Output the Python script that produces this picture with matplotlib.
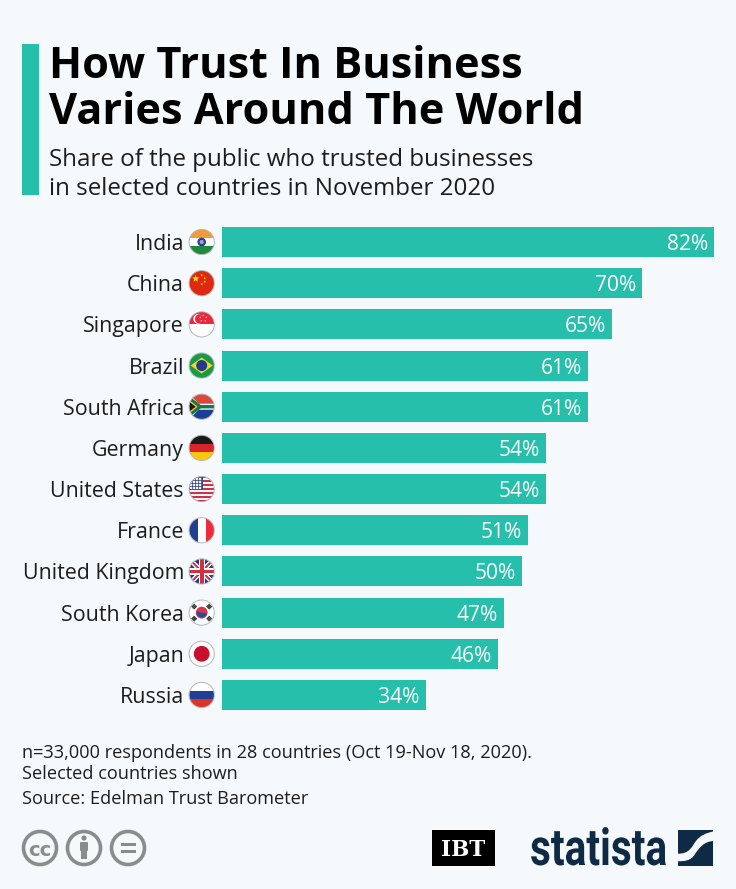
import matplotlib
matplotlib.use("Agg")
import numpy as np
import matplotlib.pyplot as plt
from matplotlib.patches import Circle, Rectangle, Polygon, FancyBboxPatch, PathPatch
from matplotlib.patheffects import AbstractPathEffect
from matplotlib.path import Path
from matplotlib.transforms import Affine2D

countries = ["India", "China", "Singapore", "Brazil", "South Africa", "Germany",
             "United States", "France", "United Kingdom", "South Korea", "Japan", "Russia"]
trust = [82, 70, 65, 61, 61, 54, 54, 51, 50, 47, 46, 34]

title_lines = ["How Trust In Business", "Varies Around The World"]
subtitle_lines = ["Share of the public who trusted businesses",
                  "in selected countries in November 2020"]
note_lines = ["n=33,000 respondents in 28 countries (Oct 19-Nov 18, 2020).",
              "Selected countries shown", "Source: Edelman Trust Barometer"]

BG = "#f5f9fc"
TEAL = "#26bfab"
NAVY = "#0f2a45"
W, H = 736, 889

plt.rcParams["font.family"] = ["Open Sans", "DejaVu Sans"]

fig = plt.figure(figsize=(W / 100, H / 100), dpi=100, facecolor=BG)

# overlay in pixel coordinates for header, flags and logos
bg = fig.add_axes([0, 0, 1, 1])
bg.set_xlim(0, W)
bg.set_ylim(H, 0)
bg.axis("off")

# bars
top, bottom = 221.4, 715.6
ax = fig.add_axes([222 / W, 1 - bottom / H, 492 / W, (bottom - top) / H])
ax.patch.set_alpha(0)
ypos = np.arange(len(countries))
ax.barh(ypos, trust, height=0.73, color=TEAL)
ax.set_xlim(0, 82)
ax.set_ylim(len(countries) - 0.5, -0.5)
ax.axis("off")
for y, v in zip(ypos, trust):
    ax.annotate(f"{v}%", (v, y), xytext=(-4.5, 0), textcoords="offset points",
                ha="right", va="center_baseline", color="white", fontsize=15.1)

# header
bg.add_patch(Rectangle((22, 44), 17, 151, color=TEAL, lw=0))
for line, y in zip(title_lines, [61, 108]):
    bg.text(49, y, line, fontsize=31.15, fontweight="bold", color="black", va="center_baseline")
for line, y in zip(subtitle_lines, [157, 186]):
    bg.text(49, y, line, fontsize=17.42, color="#1d1d1d", va="center_baseline")


def flag(cy, draw, cx=201.7, r=12.6):
    clip = Circle((cx, cy), r, transform=bg.transData)
    artists = draw(cx, cy, r)
    for a in artists:
        bg.add_artist(a)
        a.set_clip_path(clip)
    bg.add_patch(Circle((cx, cy), r, fill=False, ec="#b5b5b5", lw=0.7, zorder=6))


def rect(x0, y0, w, h, c):
    return Rectangle((x0, y0), w, h, color=c, lw=0, zorder=4)


def hstripes(colors):
    def draw(cx, cy, r):
        n = len(colors)
        return [rect(cx - r, cy - r + i * 2 * r / n, 2 * r, 2 * r / n, c) for i, c in enumerate(colors)]
    return draw


def vstripes(colors):
    def draw(cx, cy, r):
        n = len(colors)
        return [rect(cx - r + i * 2 * r / n, cy - r, 2 * r / n, 2 * r, c) for i, c in enumerate(colors)]
    return draw


def star(x, y, s, c):
    ang = np.deg2rad(np.arange(10) * 36 - 90)
    rad = np.where(np.arange(10) % 2 == 0, s, s * 0.42)
    return Polygon(np.c_[x + rad * np.cos(ang), y + rad * np.sin(ang)], color=c, lw=0, zorder=5)


def india(cx, cy, r):
    return hstripes(["#f39a35", "#ffffff", "#1f8a3c"])(cx, cy, r) + [
        Circle((cx, cy), 3.6, color="#2b3d91", zorder=5), Circle((cx, cy), 1.4, color="#9aa3d6", zorder=5)]


def china(cx, cy, r):
    out = [rect(cx - r, cy - r, 2 * r, 2 * r, "#de2910")]
    out.append(star(cx - 6, cy - 4.5, 3.8, "#ffde00"))
    for dx, dy in [(0, -8), (3, -5), (3, -1.5), (0, 1)]:
        out.append(star(cx + dx, cy + dy, 1.4, "#ffde00"))
    return out


def singapore(cx, cy, r):
    out = hstripes(["#e8283c", "#ffffff"])(cx, cy, r)
    out.append(Circle((cx - 3.5, cy - 5.5), 4.2, color="white", zorder=5))
    out.append(Circle((cx - 2, cy - 5.5), 4.0, color="#e8283c", zorder=5))
    for dx, dy in [(1.5, -9), (4.5, -7), (3.5, -3.5), (-0.5, -3.5), (-1.5, -7)]:
        out.append(star(cx + dx, cy + dy, 1.0, "white"))
    return out


def brazil(cx, cy, r):
    return [rect(cx - r, cy - r, 2 * r, 2 * r, "#169c46"),
            Polygon([(cx - 11, cy), (cx, cy - 8), (cx + 11, cy), (cx, cy + 8)], color="#f4d32a", lw=0, zorder=5),
            Circle((cx, cy), 4.8, color="#1f3d8f", zorder=5)]


def south_africa(cx, cy, r):
    return [rect(cx - r, cy - r, 2 * r, r, "#d8493c"),
            rect(cx - r, cy, 2 * r, r, "#1b3d94"),
            Polygon([(cx - r, cy - r), (cx - 3, cy - 3), (cx + r, cy - 3), (cx + r, cy + 3),
                     (cx - 3, cy + 3), (cx - r, cy + r)], color="white", lw=0, zorder=5),
            Polygon([(cx - r, cy - r + 2), (cx - 1, cy - 1.7), (cx + r, cy - 1.7), (cx + r, cy + 1.7),
                     (cx - 1, cy + 1.7), (cx - r, cy + r - 2)], color="#13794a", lw=0, zorder=5),
            Polygon([(cx - r, cy - 7), (cx - 4, cy), (cx - r, cy + 7)], color="#f3c22e", lw=0, zorder=5),
            Polygon([(cx - r, cy - 5), (cx - 6, cy), (cx - r, cy + 5)], color="#1a1a1a", lw=0, zorder=5)]


def usa(cx, cy, r):
    n = 13
    out = [rect(cx - r, cy - r + i * 2 * r / n, 2 * r, 2 * r / n, "#c8354b" if i % 2 == 0 else "#f4f4f4")
           for i in range(n)]
    out.append(rect(cx - r, cy - r, r * 1.1, r * 1.08, "#3b4a86"))
    for i in range(4):
        for j in range(4):
            out.append(Circle((cx - r + 2 + j * 3, cy - r + 2.5 + i * 3), 0.5, color="white", zorder=5))
    return out


def uk(cx, cy, r):
    out = [rect(cx - r, cy - r, 2 * r, 2 * r, "#1f3d8f")]
    for sgn in (1, -1):
        out.append(bg.plot([cx - r, cx + r], [cy - sgn * r, cy + sgn * r], color="white", lw=3.2, zorder=4.2)[0])
        out.append(bg.plot([cx - r, cx + r], [cy - sgn * r, cy + sgn * r], color="#d32f3f", lw=1.2, zorder=4.3)[0])
    out += [rect(cx - r, cy - 3.2, 2 * r, 6.4, "white"), rect(cx - 3.2, cy - r, 6.4, 2 * r, "white"),
            rect(cx - r, cy - 1.9, 2 * r, 3.8, "#d32f3f"), rect(cx - 1.9, cy - r, 3.8, 2 * r, "#d32f3f")]
    for a in out[-4:]:
        a.set_zorder(4.5)
    return out


def korea(cx, cy, r):
    out = [rect(cx - r, cy - r, 2 * r, 2 * r, "white"),
           Circle((cx, cy), 5.2, color="#d8344a", zorder=5),
           Polygon([(cx - 5.2, cy - 1), (cx + 5.2, cy + 1), (cx + 4, cy + 3.5), (cx, cy + 5.2),
                    (cx - 4, cy + 3.5)], color="#1f4f9f", lw=0, zorder=5.1)]
    # trigrams as short tilted bars
    for dx, dy, s in [(-7.5, -6, 1), (7.5, -6, -1), (-7.5, 6, -1), (7.5, 6, 1)]:
        for k in (-1.3, 0, 1.3):
            px, py = cx + dx + k * 0.75 * np.sign(dx), cy + dy + k * 0.75 * np.sign(dy)
            out.append(bg.plot([px - 1.5, px + 1.5], [py + s * 1.5, py - s * 1.5],
                               color="#333333", lw=0.7, zorder=5, solid_capstyle="butt")[0])
    return out


def japan(cx, cy, r):
    return [rect(cx - r, cy - r, 2 * r, 2 * r, "white"), Circle((cx, cy), 7.2, color="#c8102e", zorder=5)]


flags = [india, china, singapore, brazil, south_africa,
         hstripes(["#1a1a1a", "#d8242a", "#fcc80e"]), usa,
         vstripes(["#1f3f94", "#ffffff", "#ee2b3b"]), uk, korea, japan,
         hstripes(["#ffffff", "#1f3f94", "#d8342a"])]

for i, (name, fl) in enumerate(zip(countries, flags)):
    cy = 242 + i * 41.18
    bg.text(184, cy, name, ha="right", va="center_baseline", fontsize=15.42, color="#1d1d1d")
    flag(cy, fl)

# notes
for line, y in zip(note_lines, [751, 772, 797]):
    bg.text(22, y, line, fontsize=13.1, color="#1d1d1d", va="center_baseline")

# creative commons icons
GREY = "#8a8c8c"
for cx in [40, 84, 128]:
    bg.add_patch(Circle((cx, 848), 16.5, fill=False, ec=GREY, lw=2.6))
bg.text(40, 848, "cc", ha="center", va="center_baseline", fontsize=14, fontweight="bold", color=GREY, family="DejaVu Sans")
bg.add_patch(Circle((84, 838), 2.6, color=GREY, lw=0))
bg.add_patch(FancyBboxPatch((80, 842), 8, 9, boxstyle="round,pad=0,rounding_size=1", color=GREY, lw=0))
bg.add_patch(Rectangle((81.2, 849), 5.6, 10, color=GREY, lw=0))
bg.add_patch(Rectangle((120.5, 842.5), 15, 3.6, color=GREY, lw=0))
bg.add_patch(Rectangle((120.5, 849.5), 15, 3.6, color=GREY, lw=0))

# IBT logo
bg.add_patch(Rectangle((432, 830), 63, 36, color="black", lw=0))
bg.text(463.5, 848, "IBT", ha="center", va="center_baseline", fontsize=15.5, fontweight="bold",
        color="white", family="DejaVu Serif")


# squeezes the glyphs sideways, the wordmark is a condensed face we don't have
class Squeeze(AbstractPathEffect):
    def __init__(self, x0, sx):
        super().__init__()
        self.x0, self.sx = x0, sx

    def draw_path(self, renderer, gc, tpath, affine, rgbFace=None):
        squeeze = Affine2D().translate(-self.x0, 0).scale(self.sx, 1).translate(self.x0, 0)
        renderer.draw_path(gc, tpath, affine + squeeze, rgbFace)


# statista logo
logo = bg.text(530, 865, "statista", ha="left", va="baseline", fontsize=37, fontweight="bold", color=NAVY,
               family=["Roboto", "DejaVu Sans"])
logo_w = logo.get_window_extent(fig.canvas.get_renderer()).width
logo.set_path_effects([Squeeze(530, 137 / logo_w)])

bg.add_patch(Rectangle((677.7, 830), 35.6, 36, color=NAVY, lw=0))
swoosh = Path([(677.7, 853.7), (690, 854), (692, 846), (696, 841), (700, 835.5), (706, 833), (713.3, 831.5),
               (713.3, 841), (704, 841.5), (699, 848), (695, 854), (691, 861), (684, 861.3), (677.7, 861.3),
               (677.7, 853.7)],
              [Path.MOVETO, Path.CURVE4, Path.CURVE4, Path.CURVE4, Path.CURVE4, Path.CURVE4, Path.CURVE4,
               Path.LINETO, Path.CURVE4, Path.CURVE4, Path.CURVE4, Path.CURVE4, Path.CURVE4, Path.CURVE4,
               Path.CLOSEPOLY])
bg.add_patch(PathPatch(swoosh, fc=BG, lw=0, zorder=3))

fig.savefig("out.png", dpi=100, facecolor=BG)
